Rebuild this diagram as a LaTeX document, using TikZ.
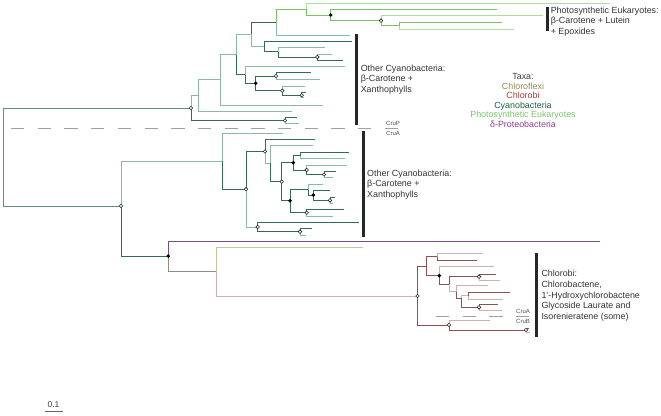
\documentclass[tikz,border=0pt]{standalone}
\usepackage{fontspec}
\setmainfont{Liberation Sans}
\definecolor{cdark}{HTML}{356B52}
\definecolor{clight}{HTML}{8CB9A0}
\definecolor{cmid}{HTML}{5E917A}
\definecolor{pegreen}{HTML}{78C364}
\definecolor{pelight}{HTML}{B0DCA0}
\definecolor{chdark}{HTML}{8A5252}
\definecolor{chlight}{HTML}{D0B0AE}
\definecolor{olive}{HTML}{C4C4A0}
\definecolor{tgray}{HTML}{8E8E84}
\definecolor{purp}{HTML}{7A4E7E}
\definecolor{dashgray}{HTML}{A0A0A0}
\newcommand{\tb}[3]{\draw[#1] (#2) |- (#3);}
\begin{document}
\begin{tikzpicture}[x=1pt,y=-1pt,
  brbase/.style={line width=1pt},
  bCd/.style={brbase,draw=cdark}, bCl/.style={brbase,draw=clight}, bCm/.style={brbase,draw=cmid},
  bPe/.style={brbase,draw=pegreen}, bPel/.style={brbase,draw=pelight},
  bChd/.style={brbase,draw=chdark}, bChl/.style={brbase,draw=chlight},
  bOlv/.style={brbase,draw=olive}, bTg/.style={brbase,draw=tgray}, bPu/.style={brbase,draw=purp},
  opnmark/.style={circle,draw=black!85,fill=white,line width=0.6pt,inner sep=0pt,minimum size=3.6pt},
  filmark/.style={circle,fill=black,inner sep=0pt,minimum size=3.9pt},
  cladebar/.style={line width=3pt,draw=black!85},
  dline/.style={line width=1.1pt,draw=dashgray,dash pattern=on 13.3pt off 13.4pt},
  labtext/.style={font=\fontsize{8.9}{10.6}\selectfont,text=black!80,align=left,inner sep=0pt},
  legtext/.style={font=\fontsize{8.9}{9.5}\selectfont,inner sep=0pt},
  crutext/.style={font=\fontsize{6}{7}\selectfont,text=black!70,inner sep=0pt}]
\useasboundingbox (0,0) rectangle (661,415);

% ---------- coordinates ----------
\coordinate (R) at (3,157);
\coordinate (A) at (191,108);
\coordinate (B) at (121,206);
% upper clade
\coordinate (A1) at (198,95);
\coordinate (Ab) at (285,120.5);
\coordinate (Ab1) at (297,117.3);
\coordinate (Ab2) at (299,123.5);
\coordinate (A1l) at (291.7,111);
\coordinate (A2) at (220,79.5);
\coordinate (A2l) at (322.7,105);
\coordinate (A3) at (236,54.5);
\coordinate (A4) at (251,34.2);
\coordinate (A13) at (245.7,74.7);
\coordinate (A8) at (276.7,22);
\coordinate (A5) at (264.3,46.7);
\coordinate (A9) at (306.7,9);
\coordinate (A8l) at (350,35);
\coordinate (A9l) at (610,3.3);
\coordinate (A10) at (330.7,15);
\coordinate (A10l) at (497.3,9.3);
\coordinate (A11) at (381,20.7);
\coordinate (A11l) at (543.3,15.5);
\coordinate (A12) at (399,25.8);
\coordinate (A12a) at (501.7,22.5);
\coordinate (A12b) at (514,29);
\coordinate (A5l) at (351.7,41.7);
\coordinate (A6) at (278.3,51.7);
\coordinate (A6l) at (325,47.7);
\coordinate (A7) at (317.3,57);
\coordinate (A7a) at (332,54);
\coordinate (A7b) at (342.7,60);
\coordinate (A13l) at (345,66);
\coordinate (A14) at (255.7,83.3);
\coordinate (A15) at (276,76);
\coordinate (A16) at (282.3,90.7);
\coordinate (A15a) at (310.7,72.7);
\coordinate (A15b) at (320,79.3);
\coordinate (A16l) at (305,86);
\coordinate (A17) at (301.7,95.3);
\coordinate (A17a) at (306,92.7);
\coordinate (A17b) at (304,97.7);
% lower cyanobacteria clade
\coordinate (C) at (222,161);
\coordinate (D) at (168.3,256);
\coordinate (Cl) at (283,133);
\coordinate (E) at (246,189.2);
\coordinate (F) at (265,151.5);
\coordinate (G) at (257.7,227);
\coordinate (Fl) at (315,139.3);
\coordinate (H) at (270,163.3);
\coordinate (Hl) at (313.3,145);
\coordinate (I) at (281.7,181.7);
\coordinate (J) at (293.3,162.7);
\coordinate (N) at (290,200.7);
\coordinate (K) at (300,155.5);
\coordinate (L) at (306.7,170);
\coordinate (Ka) at (349,152.7);
\coordinate (Kb) at (345,158.3);
\coordinate (Ll) at (346.7,165);
\coordinate (M) at (324,174.5);
\coordinate (Ma) at (335.7,171.7);
\coordinate (Mb) at (333.3,177.3);
\coordinate (O) at (308.3,189.5);
\coordinate (Nb) at (306.7,212.7);
\coordinate (Ol) at (322.7,184);
\coordinate (P) at (313.3,195);
\coordinate (Pl) at (330,190);
\coordinate (Q) at (330,200.3);
\coordinate (Qa) at (335,197.3);
\coordinate (Qb) at (333,203.3);
\coordinate (Nba) at (344,209.3);
\coordinate (Nbb) at (333.3,216);
\coordinate (Gl) at (359,222.3);
\coordinate (S) at (300,231.7);
\coordinate (Sa) at (312.3,228.3);
\coordinate (Sb) at (306,235);
% other bacteria
\coordinate (Dl) at (600,241.3);
\coordinate (T) at (216.7,271.7);
\coordinate (Tl) at (362.7,247.3);
\coordinate (U) at (417.5,296);
\coordinate (V) at (426,266.7);
\coordinate (W) at (449,325);
\coordinate (V1) at (437.7,256.7);
\coordinate (X) at (439.3,275.7);
\coordinate (V1a) at (482.7,253.3);
\coordinate (V1b) at (476.7,260);
\coordinate (Xl) at (494.3,266.7);
\coordinate (Y) at (449.3,284.3);
\coordinate (Z) at (479,276.7);
\coordinate (Y2) at (456,291.7);
\coordinate (Za) at (496,274);
\coordinate (Zb) at (500,280);
\coordinate (Y2l) at (488.3,285.7);
\coordinate (Y3) at (461.7,298.3);
\coordinate (Y5) at (468.3,295.9);
\coordinate (Z2) at (479,307.3);
\coordinate (Y5a) at (510,292.7);
\coordinate (Y5b) at (503.3,299);
\coordinate (Z2a) at (498.3,304.3);
\coordinate (Z2b) at (501.7,310);
\coordinate (Wl) at (490,320);
\coordinate (W2) at (526,330);
\coordinate (W2a) at (528.5,328);
\coordinate (W2b) at (530,332);

% ---------- branches ----------
\tb{bCm}{R}{A} \tb{bCm}{R}{B}
\tb{bCl}{A}{A1} \tb{bCd}{A}{Ab}
\tb{bCd}{Ab}{Ab1} \tb{bCl}{Ab}{Ab2}
\tb{bCl}{A1}{A2} \tb{bCl}{A1}{A1l}
\tb{bCl}{A2}{A3} \tb{bCl}{A2}{A2l}
\tb{bCl}{A3}{A4} \tb{bCd}{A3}{A13}
\tb{bCd}{A4}{A8} \tb{bCl}{A4}{A5}
\tb{bPe}{A8}{A9} \tb{bCl}{A8}{A8l}
\tb{bPel}{A9}{A9l} \tb{bPe}{A9}{A10}
\tb{bPe}{A10}{A10l} \tb{bPe}{A10}{A11}
\tb{bPel}{A11}{A11l} \tb{bPe}{A11}{A12}
\tb{bPe}{A12}{A12a} \tb{bPel}{A12}{A12b}
\tb{bCd}{A5}{A5l} \tb{bCd}{A5}{A6}
\tb{bCl}{A6}{A6l} \tb{bCd}{A6}{A7}
\tb{bCl}{A7}{A7a} \tb{bCd}{A7}{A7b}
\tb{bCl}{A13}{A13l} \tb{bCd}{A13}{A14}
\tb{bCd}{A14}{A15} \tb{bCd}{A14}{A16}
\tb{bCd}{A15}{A15a} \tb{bCl}{A15}{A15b}
\tb{bCl}{A16}{A16l} \tb{bCd}{A16}{A17}
\tb{bCd}{A17}{A17a} \tb{bCl}{A17}{A17b}

\tb{bCl}{B}{C} \tb{bCd}{B}{D}
\tb{bCl}{C}{Cl} \tb{bCd}{C}{E}
\tb{bCd}{E}{F} \tb{bCl}{E}{G}
\tb{bCd}{F}{Fl} \tb{bCl}{F}{H}
\tb{bCl}{H}{Hl} \tb{bCd}{H}{I}
\tb{bCd}{I}{J} \tb{bCd}{I}{N}
\tb{bCd}{J}{K} \tb{bCd}{J}{L}
\tb{bCd}{K}{Ka} \tb{bCl}{K}{Kb}
\tb{bCl}{L}{Ll} \tb{bCd}{L}{M}
\tb{bCd}{M}{Ma} \tb{bCl}{M}{Mb}
\tb{bCd}{N}{O} \tb{bCd}{N}{Nb}
\tb{bCl}{O}{Ol} \tb{bCd}{O}{P}
\tb{bCd}{P}{Pl} \tb{bCd}{P}{Q}
\tb{bCd}{Q}{Qa} \tb{bCl}{Q}{Qb}
\tb{bCd}{Nb}{Nba} \tb{bCl}{Nb}{Nbb}
\tb{bCd}{G}{Gl} \tb{bCd}{G}{S}
\tb{bCd}{S}{Sa} \tb{bCl}{S}{Sb}

\tb{bPu}{D}{Dl} \tb{bTg}{D}{T}
\tb{bOlv}{T}{Tl} \tb{bChl}{T}{U}
\tb{bChd}{U}{V} \tb{bChd}{U}{W}
\tb{bChd}{V}{V1} \tb{bChd}{V}{X}
\tb{bChl}{V1}{V1a} \tb{bChd}{V1}{V1b}
\tb{bChl}{X}{Xl} \tb{bChd}{X}{Y}
\tb{bChd}{Y}{Z} \tb{bChl}{Y}{Y2}
\tb{bChd}{Z}{Za} \tb{bChl}{Z}{Zb}
\tb{bChl}{Y2}{Y2l} \tb{bChd}{Y2}{Y3}
\tb{bChl}{Y3}{Y5} \tb{bChd}{Y3}{Z2}
\tb{bChd}{Y5}{Y5a} \tb{bChl}{Y5}{Y5b}
\tb{bChd}{Z2}{Z2a} \tb{bChl}{Z2}{Z2b}
\tb{bChl}{W}{Wl} \tb{bChd}{W}{W2}
\tb{bChd}{W2}{W2a} \tb{bChl}{W2}{W2b}

% ---------- node markers ----------
\foreach \n in {A,B,Ab,A11,A7,A15,A16,A17,E,F,I,L,M,Nb,Q,G,S,U,W,W2,Z,Z2}
  \node[opnmark] (m\n) at (\n) {};
\foreach \n in {A10,A14,J,N,P,D,X}
  \node[filmark] (m\n) at (\n) {};

% ---------- dashed separators ----------
\coordinate (d1) at (11,128.5); \coordinate (d2) at (400,128.5);
\draw[dline] (d1) -- (d2);
\coordinate (e1) at (436,316.3); \coordinate (e2) at (530,316.3);
\draw[dline] (e1) -- (e2);
\node[crutext,anchor=south] (cruP) at (393,126.2) {CruP};
\node[crutext,anchor=north] (cruA1) at (393,131) {CruA};
\node[crutext,anchor=south] (cruA2) at (523,314.2) {CruA};
\node[crutext,anchor=north] (cruB) at (523,318.8) {CruB};

% ---------- bars and labels ----------
\coordinate (b1a) at (547.3,7); \coordinate (b1b) at (547.3,30.5);
\draw[cladebar] (b1a) -- (b1b);
\node[labtext,anchor=west] (tPE) at (550.6,21.5) {Photosynthetic Eukaryotes:\\β-Carotene + Lutein\\+ Epoxides};
\coordinate (b2a) at (356,34); \coordinate (b2b) at (356,125);
\draw[cladebar] (b2a) -- (b2b);
\node[labtext,anchor=west] (tC1) at (360.6,79.5) {Other Cyanobacteria:\\β-Carotene +\\Xanthophylls};
\coordinate (b3a) at (363.3,130.7); \coordinate (b3b) at (363.3,237.3);
\draw[cladebar] (b3a) -- (b3b);
\node[labtext,anchor=west] (tC2) at (367,184.3) {Other Cyanobacteria:\\β-Carotene +\\Xanthophylls};
\coordinate (b4a) at (536.7,252.7); \coordinate (b4b) at (536.7,336.7);
\draw[cladebar] (b4a) -- (b4b);
\node[labtext,anchor=west] (tCh) at (541.3,295.7) {Chlorobi:\\Chlorobactene,\\1’-Hydroxychlorobactene\\Glycoside Laurate and\\Isorenieratene (some)};

% ---------- legend ----------
\node[legtext,align=center] (legend) at (523,100.5) {%
  \textcolor{black!75}{Taxa:}\\
  \textcolor[HTML]{8C8C50}{Chloroflexi}\\
  \textcolor[HTML]{A83C3C}{Chlorobi}\\
  \textcolor[HTML]{1F5F45}{Cyanobacteria}\\
  \textcolor[HTML]{7CC46A}{Photosynthetic Eukaryotes}\\
  \textcolor[HTML]{8C3C96}{δ-Proteobacteria}};

% ---------- scale bar ----------
\coordinate (s1) at (44.7,411.7); \coordinate (s2) at (62.7,411.7);
\draw[line width=0.9pt,draw=black!60] (s1) -- (s2);
\node[font=\fontsize{8.5}{9}\selectfont,text=black!75,inner sep=0pt] (sc) at (53.5,404.3) {0.1};
\end{tikzpicture}
\end{document}
